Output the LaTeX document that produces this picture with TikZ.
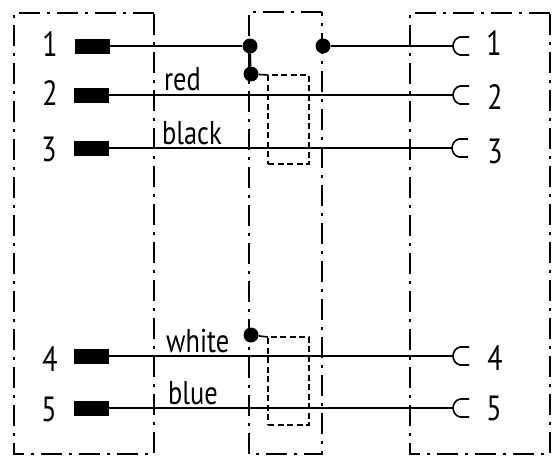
\documentclass[tikz,border=0pt]{standalone}
\usepackage{fontspec}
\setmainfont{PT Sans}
\begin{document}
\begin{tikzpicture}[x=1pt,y=-1pt,
  housing/.style={draw=black,line width=1.7pt,dash pattern=on 21pt off 7pt on 3pt off 7pt},
  shield/.style={draw=black,line width=1.5pt,dash pattern=on 6pt off 3.5pt},
  wire/.style={draw=black,line width=1.6pt},
  pin/.style={fill=black,draw=none,minimum width=35pt,minimum height=15pt,inner sep=0pt,outer sep=0pt},
  joint/.style={circle,fill=black,draw=none,minimum size=15pt,inner sep=0pt},
  num/.style={font=\fontsize{35}{35}\selectfont,inner sep=0pt,xscale=.8},
  lab/.style={font=\fontsize{33}{33}\selectfont,inner sep=0pt,xscale=.8,anchor=base west}]
\useasboundingbox (0,0) rectangle (553,456);
\fill[white] (0,0) rectangle (553,456);
% housings
\draw[housing] (154,13) -- (14,13) -- (14,454) -- (154,454) -- cycle;
\draw[housing] (322,12) -- (249,12) -- (249,454) -- (322,454) -- cycle;
\draw[housing] (550,13) -- (410,13) -- (410,454) -- (550,454) -- cycle;
% shields
\node[shield,minimum width=41pt,minimum height=89pt,inner sep=0pt] (s1) at (288.5,119.5) {};
\node[shield,minimum width=41pt,minimum height=88pt,inner sep=0pt] (s2) at (288.5,381) {};
% pins
\node[pin] (p1) at (92,46) {};
\node[pin] (p2) at (91,95) {};
\node[pin] (p3) at (91,148) {};
\node[pin] (p4) at (91,356) {};
\node[pin] (p5) at (91,408) {};
% joints
\node[joint] (j1) at (250,46) {};
\node[joint] (j2) at (323,46) {};
\node[joint] (j3) at (251,74) {};
\node[joint] (j4) at (251,335) {};
% socket ends
\coordinate (c1) at (453,46);
\coordinate (c2) at (453,95);
\coordinate (c3) at (452,148);
\coordinate (c4) at (453,356);
\coordinate (c5) at (453,408);
% wires
\draw[wire] (p1) -- (j1);
\draw[wire] (j2) -- (c1);
\draw[wire] (p2) -- (c2);
\draw[wire] (p3) -- (c3);
\draw[wire] (p4) -- (c4);
\draw[wire] (p5) -- (c5);
\draw[wire] (j1) -- (j3);
\draw[wire] (j3) -- (268,75);
\draw[wire] (j4) -- (268,337);
% sockets
\foreach \c in {c1,c2,c3,c4,c5}{
  \draw[wire] ([xshift=16pt,yshift=-9pt]\c) -- ([xshift=7pt,yshift=-9pt]\c)
    .. controls ([xshift=2pt,yshift=-8pt]\c) and ([xshift=0pt,yshift=-3pt]\c) .. (\c)
    .. controls ([xshift=0pt,yshift=3pt]\c) and ([xshift=2pt,yshift=8pt]\c) .. ([xshift=7pt,yshift=9pt]\c)
    -- ([xshift=16pt,yshift=9pt]\c);
}
% numbers left
\node[num] (n1) at (50,44) {1};
\node[num] (n2) at (50,93) {2};
\node[num] (n3) at (49,149) {3};
\node[num] (n4) at (50,359) {4};
\node[num] (n5) at (49,409) {5};
% numbers right
\node[num] (m1) at (494,43) {1};
\node[num] (m2) at (495,97) {2};
\node[num] (m3) at (495,151) {3};
\node[num] (m4) at (495,358) {4};
\node[num] (m5) at (494,408) {5};
% colour labels
\node[lab] (red) at (164,90) {red};
\node[lab] (black) at (162,144) {black};
\node[lab] (white) at (166,352) {white};
\node[lab] (blue) at (168,404) {blue};
\end{tikzpicture}
\end{document}
